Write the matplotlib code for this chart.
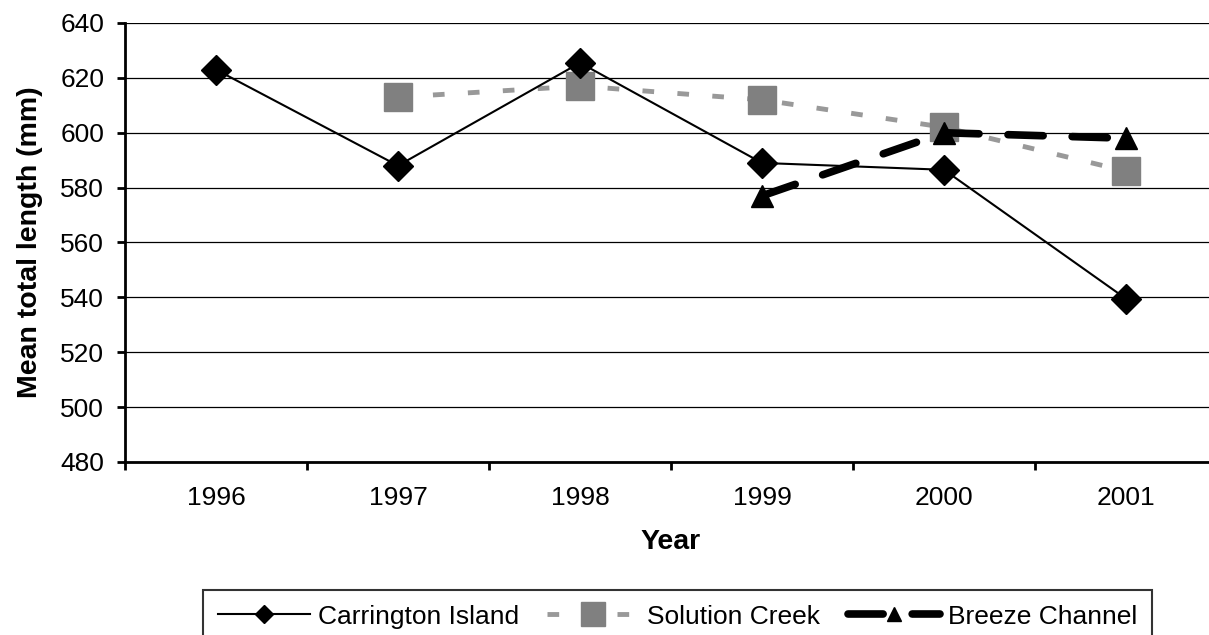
import numpy as np
import matplotlib
matplotlib.use('Agg')
import matplotlib.pyplot as plt

plt.rcParams['font.family'] = ['Liberation Sans', 'DejaVu Sans']

years = ['1996', '1997', '1998', '1999', '2000', '2001']
carrington = [623, 588, 625.5, 589, 586.5, 539.5]
solution = [np.nan, 613, 617, 612, 602, 586]
breeze = [np.nan, np.nan, np.nan, 577, 600, 598]

fig = plt.figure(figsize=(12.09, 6.35), dpi=100)
ax = fig.add_axes([125/1209, 1 - 462/635, 1092/1209, 439/635])

x = np.arange(len(years))

ax.plot(x, carrington, color='black', lw=1.5, marker='D', ms=15,
        label='Carrington Island', zorder=4)
ax.plot(x, solution, color='#999999', lw=3.5, dashes=(2.4, 4.8),
        marker='s', ms=20, mfc='#808080', mec='#808080',
        label='Solution Creek', zorder=3)
ax.plot(x, breeze, color='black', lw=5.5, dashes=(4.6, 3.8),
        dash_capstyle='round', marker='^', ms=16,
        label='Breeze Channel', zorder=5)

ax.set_ylim(480, 640)
ax.set_yticks(np.arange(480, 641, 20))
ax.set_xlim(-0.5, 5.5)
ax.set_xticks(x)
ax.set_xticklabels(years)
ax.set_xticks(np.arange(-0.5, 6, 1), minor=True)
ax.tick_params(axis='x', which='major', length=0, pad=17, labelsize=19)
ax.tick_params(axis='x', which='minor', length=6, width=2, direction='out')
ax.tick_params(axis='y', length=6, width=2, direction='out', labelsize=19, pad=9)

ax.grid(axis='y', color='black', lw=0.9)
ax.set_axisbelow(True)
for s in ['top', 'right']:
    ax.spines[s].set_visible(False)
ax.spines['left'].set_linewidth(2)
ax.spines['bottom'].set_linewidth(2)

ax.set_xlabel('Year', fontsize=20.5, fontweight='bold', labelpad=14)
ax.set_ylabel('Mean total length (mm)', fontsize=20.5, fontweight='bold', labelpad=12)

leg = fig.legend(loc='upper left', bbox_to_anchor=(203/1209, 1 - 590/635),
                 ncol=3, fontsize=19, frameon=True, fancybox=False,
                 edgecolor='black', handlelength=3.5, borderpad=0.55,
                 columnspacing=1.05, handletextpad=0.3, borderaxespad=0)
leg.get_frame().set_linewidth(1.5)
for h, m in zip(leg.legend_handles, [9, 17, 10.5]):
    h.set_markersize(m)

fig.savefig('out.png', dpi=100)
